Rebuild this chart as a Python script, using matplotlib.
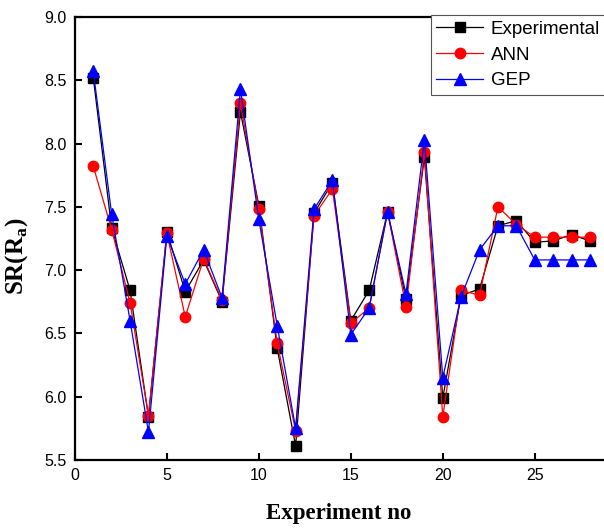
import numpy as np
import matplotlib.pyplot as plt

# Surface roughness values
experiment_no = list(range(1, 29))
experimental = [8.52, 7.33, 6.84, 5.84, 7.30, 6.83, 7.08, 6.75, 8.25, 7.51,
                6.38, 5.61, 7.45, 7.69, 6.60, 6.84, 7.46, 6.77, 7.89, 5.99,
                6.80, 6.85, 7.35, 7.39, 7.22, 7.23, 7.28, 7.23]
ann = [7.82, 7.32, 6.74, 5.85, 7.29, 6.63, 7.09, 6.76, 8.32, 7.48,
       6.42, 5.73, 7.43, 7.64, 6.58, 6.70, 7.46, 6.71, 7.93, 5.84,
       6.84, 6.80, 7.50, 7.36, 7.26, 7.26, 7.26, 7.26]
gep = [8.57, 7.44, 6.60, 5.72, 7.27, 6.89, 7.16, 6.78, 8.43, 7.40,
       6.56, 5.75, 7.48, 7.71, 6.49, 6.70, 7.46, 6.81, 8.03, 6.15,
       6.79, 7.16, 7.35, 7.35, 7.08, 7.08, 7.08, 7.08]

fig = plt.figure(figsize=(6.04, 5.31), dpi=100)
ax = fig.add_axes([0.124, 0.134, 0.874, 0.834])

ax.plot(experiment_no, experimental, color="black", marker="s", markersize=6.5,
        linewidth=0.9, label="Experimental")
ax.plot(experiment_no, ann, color="red", marker="o", markersize=7.5,
        linewidth=0.9, label="ANN")
ax.plot(experiment_no, gep, color="blue", marker="^", markersize=8,
        linewidth=0.9, label="GEP")

ax.set_xlim(0, 28.7)
ax.set_ylim(5.5, 9.0)
ax.set_xticks([0, 5, 10, 15, 20, 25])
ax.set_yticks(np.arange(5.5, 9.01, 0.5))
ax.yaxis.set_major_formatter(plt.FormatStrFormatter("%.1f"))
ax.tick_params(direction="in", length=5, width=1.5, labelsize=11.5, pad=6)
for lab in ax.get_xticklabels() + ax.get_yticklabels():
    lab.set_family("Liberation Sans")
for side in ["left", "bottom", "top"]:
    ax.spines[side].set_linewidth(1.6)
ax.spines["right"].set_visible(False)

ax.set_xlabel("Experiment no", fontsize=16.5, fontweight="bold",
              family="Liberation Serif", labelpad=14)
ax.set_ylabel(r"SR(R$_\mathregular{a}$)", fontsize=18, fontweight="bold",
              family="Liberation Serif")
ax.yaxis.set_label_coords(-0.085, 0.46)

leg = ax.legend(loc="upper right", bbox_to_anchor=(1.005, 1.004),
                prop={"family": "Liberation Sans", "size": 13.5},
                fancybox=False, framealpha=1, edgecolor="#555555",
                borderpad=0.3, labelspacing=0.45, handlelength=2.5,
                handletextpad=0.4, borderaxespad=0)
leg.get_frame().set_linewidth(0.8)

fig.savefig("out.png", dpi=100)
